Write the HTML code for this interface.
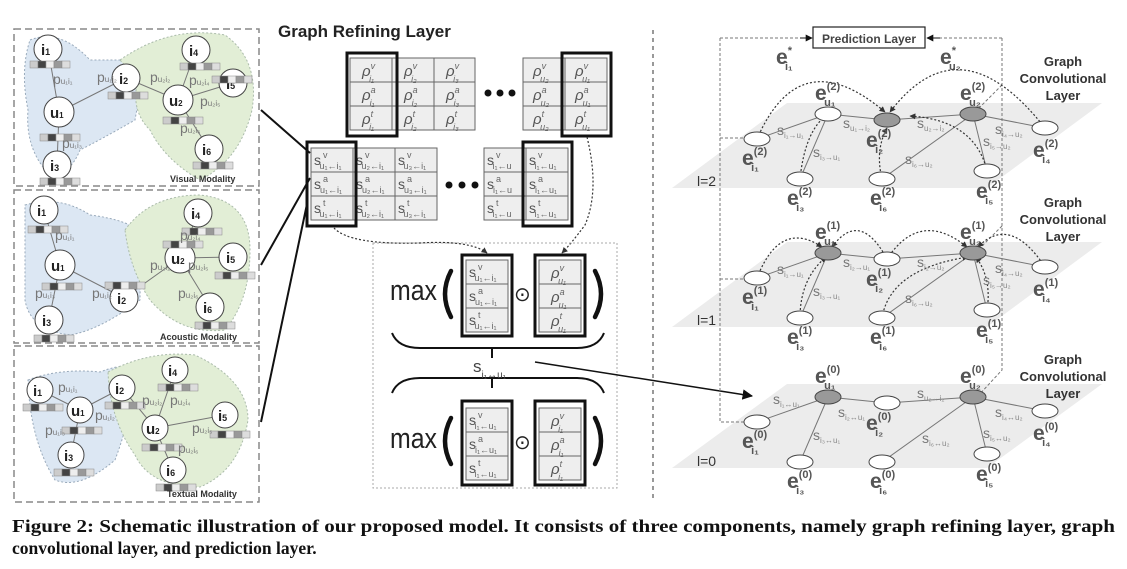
<!DOCTYPE html>
<html><head><meta charset="utf-8"><style>
html,body{margin:0;padding:0;background:#fff;width:1127px;height:569px;overflow:hidden}
svg{display:block;font-family:"Liberation Sans",sans-serif}
.g{fill:#666}
.cell{fill:#eee;stroke:#666;stroke-width:1}
.ct{font-size:15px;fill:#555;font-style:italic}
.cs{font-size:9px;fill:#666}
.thick{fill:none;stroke:#111;stroke-width:3}
.nd{fill:#fff;stroke:#444;stroke-width:1}
.nl{font-size:15px;font-weight:bold;fill:#222}
.el{font-size:21px;font-weight:bold;fill:#555}
.es{font-size:11px;fill:#555}
.dash{fill:none;stroke:#777;stroke-width:1;stroke-dasharray:3,2}
.edge{stroke:#777;stroke-width:1}
.arc{fill:none;stroke:#333;stroke-width:1.2;stroke-dasharray:2,2}
.sl{font-size:14px;fill:#777}
.ss{font-size:8px;fill:#888}
.gc{font-size:13px;font-weight:bold;fill:#333;text-anchor:middle}
.par{fill:none;stroke:#111;stroke-width:4.5;stroke-linecap:round}
</style></head><body>
<svg width="1127" height="569" viewBox="0 0 1127 569">
<defs>
<marker id="ah" viewBox="0 0 10 10" refX="9" refY="5" markerWidth="7" markerHeight="7" orient="auto"><path d="M0,0L10,5L0,10z" fill="#111"/></marker>
<marker id="ahs" viewBox="0 0 10 10" refX="9" refY="5" markerWidth="5" markerHeight="5" orient="auto"><path d="M0,0L10,5L0,10z" fill="#333"/></marker>
<g id="bar"><rect x="0" y="0" width="8" height="7" fill="#ccc" stroke="#888" stroke-width=".5"/><rect x="8" y="0" width="8" height="7" fill="#444" stroke="#888" stroke-width=".5"/><rect x="16" y="0" width="8" height="7" fill="#eee" stroke="#888" stroke-width=".5"/><rect x="24" y="0" width="8" height="7" fill="#999" stroke="#888" stroke-width=".5"/><rect x="32" y="0" width="8" height="7" fill="#ddd" stroke="#888" stroke-width=".5"/></g>
</defs>

<!-- ================= LEFT PANELS ================= -->
<g stroke="#888" stroke-width="1.5" stroke-dasharray="7,4" fill="none">
<rect x="14" y="29" width="245" height="157"/>
<rect x="14" y="190" width="245" height="153"/>
<rect x="14" y="346" width="245" height="156"/>
</g>
<!-- panel 1 -->
<path d="M30,40 Q60,28 90,60 Q130,60 150,60 Q140,90 135,120 Q100,140 80,150 Q70,175 50,175 Q25,150 28,110 Q20,70 30,40z" fill="#dce7f3" stroke="#9ab" stroke-dasharray="2,2"/>
<path d="M120,60 Q170,25 225,35 Q260,60 252,110 Q240,160 200,180 Q165,160 150,130 Q130,110 138,80z" fill="#e2eed6" stroke="#aba" stroke-dasharray="2,2"/>
<g class="edge"><line x1="48" y1="49" x2="59" y2="112"/><line x1="59" y1="112" x2="126" y2="78"/><line x1="59" y1="112" x2="57" y2="165"/><line x1="126" y1="78" x2="178" y2="100"/><line x1="178" y1="100" x2="196" y2="50"/><line x1="178" y1="100" x2="233" y2="83"/><line x1="178" y1="100" x2="209" y2="149"/></g>
<g class="nd"><circle cx="48" cy="49" r="14"/><circle cx="126" cy="78" r="14"/><circle cx="59" cy="112" r="15"/><circle cx="57" cy="165" r="14"/><circle cx="196" cy="50" r="14"/><circle cx="233" cy="83" r="14"/><circle cx="178" cy="100" r="15"/><circle cx="209" cy="149" r="14"/></g>
<g class="nl"><text x="41" y="55">i<tspan font-size="9">1</tspan></text><text x="119" y="84">i<tspan font-size="9">2</tspan></text><text x="50" y="118">u<tspan font-size="8">1</tspan></text><text x="50" y="171">i<tspan font-size="9">3</tspan></text><text x="189" y="56">i<tspan font-size="9">4</tspan></text><text x="226" y="89">i<tspan font-size="9">5</tspan></text><text x="169" y="106">u<tspan font-size="8">2</tspan></text><text x="202" y="155">i<tspan font-size="9">6</tspan></text></g>
<use href="#bar" x="30" y="61"/><use href="#bar" x="108" y="92"/><use href="#bar" x="40" y="134"/><use href="#bar" x="40" y="178"/><use href="#bar" x="180" y="63"/><use href="#bar" x="212" y="76"/><use href="#bar" x="163" y="117"/><use href="#bar" x="193" y="162"/>
<g class="sl" font-size="13"><text x="53" y="84">p<tspan font-size="8">u₁i₁</tspan></text><text x="97" y="82">p<tspan font-size="8">u₁i₂</tspan></text><text x="150" y="82">p<tspan font-size="8">u₂i₂</tspan></text><text x="189" y="85">p<tspan font-size="8">u₂i₄</tspan></text><text x="200" y="106">p<tspan font-size="8">u₂i₅</tspan></text><text x="180" y="133">p<tspan font-size="8">u₂i₆</tspan></text><text x="62" y="148">p<tspan font-size="8">u₁i₃</tspan></text></g>
<text x="170" y="182" font-size="9" font-weight="bold" fill="#333">Visual Modality</text>
<!-- panel 2 -->
<path d="M25,205 Q60,195 90,215 Q130,220 145,235 Q140,270 140,300 Q100,330 70,335 Q30,330 25,300z" fill="#dce7f3" stroke="#9ab" stroke-dasharray="2,2"/>
<path d="M125,230 Q150,195 200,195 Q250,200 250,250 Q250,300 225,330 Q180,335 150,300 Q130,270 125,230z" fill="#e2eed6" stroke="#aba" stroke-dasharray="2,2"/>
<g class="edge"><line x1="44" y1="210" x2="60" y2="265"/><line x1="60" y1="265" x2="124" y2="298"/><line x1="60" y1="265" x2="49" y2="320"/><line x1="124" y1="298" x2="180" y2="258"/><line x1="180" y1="258" x2="198" y2="213"/><line x1="180" y1="258" x2="233" y2="257"/><line x1="180" y1="258" x2="210" y2="307"/></g>
<g class="nd"><circle cx="44" cy="210" r="14"/><circle cx="124" cy="298" r="14"/><circle cx="60" cy="265" r="15"/><circle cx="49" cy="320" r="14"/><circle cx="198" cy="213" r="14"/><circle cx="233" cy="257" r="14"/><circle cx="180" cy="258" r="15"/><circle cx="210" cy="307" r="14"/></g>
<g class="nl"><text x="37" y="216">i<tspan font-size="9">1</tspan></text><text x="117" y="304">i<tspan font-size="9">2</tspan></text><text x="51" y="271">u<tspan font-size="8">1</tspan></text><text x="42" y="326">i<tspan font-size="9">3</tspan></text><text x="191" y="219">i<tspan font-size="9">4</tspan></text><text x="226" y="263">i<tspan font-size="9">5</tspan></text><text x="171" y="264">u<tspan font-size="8">2</tspan></text><text x="203" y="313">i<tspan font-size="9">6</tspan></text></g>
<use href="#bar" x="28" y="226"/><use href="#bar" x="105" y="282"/><use href="#bar" x="42" y="283"/><use href="#bar" x="34" y="335"/><use href="#bar" x="182" y="228"/><use href="#bar" x="215" y="272"/><use href="#bar" x="163" y="241"/><use href="#bar" x="195" y="322"/>
<g class="sl" font-size="13"><text x="55" y="240">p<tspan font-size="8">u₁i₁</tspan></text><text x="35" y="298">p<tspan font-size="8">u₁i₃</tspan></text><text x="92" y="298">p<tspan font-size="8">u₁i₂</tspan></text><text x="150" y="270">p<tspan font-size="8">u₂i₂</tspan></text><text x="180" y="240">p<tspan font-size="8">u₂i₄</tspan></text><text x="188" y="270">p<tspan font-size="8">u₂i₅</tspan></text><text x="178" y="298">p<tspan font-size="8">u₂i₆</tspan></text></g>
<text x="160" y="340" font-size="9" font-weight="bold" fill="#333">Acoustic Modality</text>
<!-- panel 3 -->
<path d="M28,380 Q60,368 100,372 Q130,360 137,375 Q130,420 115,460 Q80,490 55,480 Q30,440 28,380z" fill="#dce7f3" stroke="#9ab" stroke-dasharray="2,2"/>
<path d="M108,372 Q150,350 195,355 Q248,380 248,420 Q240,470 200,487 Q150,487 135,455 Q110,420 108,372z" fill="#e2eed6" stroke="#aba" stroke-dasharray="2,2"/>
<g class="edge"><line x1="40" y1="390" x2="80" y2="410"/><line x1="80" y1="410" x2="122" y2="388"/><line x1="80" y1="410" x2="71" y2="455"/><line x1="122" y1="388" x2="155" y2="428"/><line x1="155" y1="428" x2="175" y2="370"/><line x1="155" y1="428" x2="225" y2="415"/><line x1="155" y1="428" x2="173" y2="470"/></g>
<g class="nd"><circle cx="40" cy="390" r="13"/><circle cx="122" cy="388" r="13"/><circle cx="80" cy="410" r="13"/><circle cx="71" cy="455" r="13"/><circle cx="175" cy="370" r="13"/><circle cx="225" cy="415" r="13"/><circle cx="155" cy="428" r="13"/><circle cx="173" cy="470" r="13"/></g>
<g class="nl"><text x="33" y="396">i<tspan font-size="9">1</tspan></text><text x="115" y="394">i<tspan font-size="9">2</tspan></text><text x="71" y="416">u<tspan font-size="8">1</tspan></text><text x="64" y="461">i<tspan font-size="9">3</tspan></text><text x="168" y="376">i<tspan font-size="9">4</tspan></text><text x="218" y="421">i<tspan font-size="9">5</tspan></text><text x="146" y="434">u<tspan font-size="8">2</tspan></text><text x="166" y="476">i<tspan font-size="9">6</tspan></text></g>
<use href="#bar" x="23" y="404"/><use href="#bar" x="105" y="402"/><use href="#bar" x="62" y="427"/><use href="#bar" x="54" y="469"/><use href="#bar" x="158" y="384"/><use href="#bar" x="210" y="431"/><use href="#bar" x="142" y="444"/><use href="#bar" x="156" y="484"/>
<g class="sl" font-size="13"><text x="58" y="392">p<tspan font-size="8">u₁i₁</tspan></text><text x="95" y="420">p<tspan font-size="8">u₁i₂</tspan></text><text x="45" y="435">p<tspan font-size="8">u₁i₃</tspan></text><text x="142" y="405">p<tspan font-size="8">u₂i₂</tspan></text><text x="170" y="405">p<tspan font-size="8">u₂i₄</tspan></text><text x="192" y="433">p<tspan font-size="8">u₂i₅</tspan></text><text x="178" y="453">p<tspan font-size="8">u₂i₆</tspan></text></g>
<text x="167" y="497" font-size="9" font-weight="bold" fill="#333">Textual Modality</text>

<!-- connectors from panels -->
<g stroke="#111" stroke-width="2"><line x1="261" y1="110" x2="310" y2="153"/><line x1="261" y1="265" x2="310" y2="178"/><line x1="261" y1="422" x2="307" y2="204"/></g>

<!-- ================= MIDDLE ================= -->
<text x="278" y="37" font-size="17" font-weight="bold" fill="#222">Graph Refining Layer</text>
<g class="cell">
<rect x="350" y="58" width="42" height="24"/><rect x="392" y="58" width="42" height="24"/><rect x="434" y="58" width="41" height="24"/>
<rect x="350" y="82" width="42" height="24"/><rect x="392" y="82" width="42" height="24"/><rect x="434" y="82" width="41" height="24"/>
<rect x="350" y="106" width="42" height="24"/><rect x="392" y="106" width="42" height="24"/><rect x="434" y="106" width="41" height="24"/>
<rect x="523" y="58" width="42" height="24"/><rect x="565" y="58" width="42" height="24"/>
<rect x="523" y="82" width="42" height="24"/><rect x="565" y="82" width="42" height="24"/>
<rect x="523" y="106" width="42" height="24"/><rect x="565" y="106" width="42" height="24"/>
</g>
<g class="ct">
<text x="362" y="76">ρ<tspan class="cs" dy="-7">v</tspan><tspan class="cs" dx="-6" dy="13">i₁</tspan></text>
<text x="404" y="76">ρ<tspan class="cs" dy="-7">v</tspan><tspan class="cs" dx="-6" dy="13">i₂</tspan></text>
<text x="446" y="76">ρ<tspan class="cs" dy="-7">v</tspan><tspan class="cs" dx="-6" dy="13">i₃</tspan></text>
<text x="362" y="100">ρ<tspan class="cs" dy="-7">a</tspan><tspan class="cs" dx="-6" dy="13">i₁</tspan></text>
<text x="404" y="100">ρ<tspan class="cs" dy="-7">a</tspan><tspan class="cs" dx="-6" dy="13">i₂</tspan></text>
<text x="446" y="100">ρ<tspan class="cs" dy="-7">a</tspan><tspan class="cs" dx="-6" dy="13">i₃</tspan></text>
<text x="362" y="124">ρ<tspan class="cs" dy="-7">t</tspan><tspan class="cs" dx="-4" dy="13">i₁</tspan></text>
<text x="404" y="124">ρ<tspan class="cs" dy="-7">t</tspan><tspan class="cs" dx="-4" dy="13">i₂</tspan></text>
<text x="446" y="124">ρ<tspan class="cs" dy="-7">t</tspan><tspan class="cs" dx="-4" dy="13">i₃</tspan></text>
<text x="533" y="76">ρ<tspan class="cs" dy="-7">v</tspan><tspan class="cs" dx="-6" dy="13">u₂</tspan></text>
<text x="575" y="76">ρ<tspan class="cs" dy="-7">v</tspan><tspan class="cs" dx="-6" dy="13">u₁</tspan></text>
<text x="533" y="100">ρ<tspan class="cs" dy="-7">a</tspan><tspan class="cs" dx="-6" dy="13">u₂</tspan></text>
<text x="575" y="100">ρ<tspan class="cs" dy="-7">a</tspan><tspan class="cs" dx="-6" dy="13">u₁</tspan></text>
<text x="533" y="124">ρ<tspan class="cs" dy="-7">t</tspan><tspan class="cs" dx="-4" dy="13">u₂</tspan></text>
<text x="575" y="124">ρ<tspan class="cs" dy="-7">t</tspan><tspan class="cs" dx="-4" dy="13">u₁</tspan></text>
</g>
<rect class="thick" x="347" y="53" width="50" height="83"/>
<rect class="thick" x="562" y="53" width="49" height="83"/>
<g fill="#111"><circle cx="488" cy="93" r="3.5"/><circle cx="500" cy="93" r="3.5"/><circle cx="512" cy="93" r="3.5"/></g>
<g class="cell">
<rect x="311" y="148" width="42" height="24"/><rect x="353" y="148" width="42" height="24"/><rect x="395" y="148" width="42" height="24"/>
<rect x="311" y="172" width="42" height="24"/><rect x="353" y="172" width="42" height="24"/><rect x="395" y="172" width="42" height="24"/>
<rect x="311" y="196" width="42" height="24"/><rect x="353" y="196" width="42" height="24"/><rect x="395" y="196" width="42" height="24"/>
<rect x="484" y="148" width="42" height="24"/><rect x="526" y="148" width="42" height="24"/>
<rect x="484" y="172" width="42" height="24"/><rect x="526" y="172" width="42" height="24"/>
<rect x="484" y="196" width="42" height="24"/><rect x="526" y="196" width="42" height="24"/>
</g>
<g font-size="14" fill="#555">
<text x="314" y="165">s<tspan class="cs" dx="2" dy="-7">v</tspan><tspan class="cs" dx="-8" dy="11">u₁←i₁</tspan></text>
<text x="356" y="165">s<tspan class="cs" dx="2" dy="-7">v</tspan><tspan class="cs" dx="-8" dy="11">u₂←i₁</tspan></text>
<text x="398" y="165">s<tspan class="cs" dx="2" dy="-7">v</tspan><tspan class="cs" dx="-8" dy="11">u₃←i₁</tspan></text>
<text x="314" y="189">s<tspan class="cs" dx="2" dy="-7">a</tspan><tspan class="cs" dx="-8" dy="11">u₁←i₁</tspan></text>
<text x="356" y="189">s<tspan class="cs" dx="2" dy="-7">a</tspan><tspan class="cs" dx="-8" dy="11">u₂←i₁</tspan></text>
<text x="398" y="189">s<tspan class="cs" dx="2" dy="-7">a</tspan><tspan class="cs" dx="-8" dy="11">u₃←i₁</tspan></text>
<text x="314" y="213">s<tspan class="cs" dx="2" dy="-7">t</tspan><tspan class="cs" dx="-6" dy="11">u₁←i₁</tspan></text>
<text x="356" y="213">s<tspan class="cs" dx="2" dy="-7">t</tspan><tspan class="cs" dx="-6" dy="11">u₂←i₁</tspan></text>
<text x="398" y="213">s<tspan class="cs" dx="2" dy="-7">t</tspan><tspan class="cs" dx="-6" dy="11">u₃←i₁</tspan></text>
<text x="487" y="165">s<tspan class="cs" dx="2" dy="-7">v</tspan><tspan class="cs" dx="-8" dy="11">i₁←u</tspan></text>
<text x="529" y="165">s<tspan class="cs" dx="2" dy="-7">v</tspan><tspan class="cs" dx="-8" dy="11">i₁←u₁</tspan></text>
<text x="487" y="189">s<tspan class="cs" dx="2" dy="-7">a</tspan><tspan class="cs" dx="-8" dy="11">i₁←u</tspan></text>
<text x="529" y="189">s<tspan class="cs" dx="2" dy="-7">a</tspan><tspan class="cs" dx="-8" dy="11">i₁←u₁</tspan></text>
<text x="487" y="213">s<tspan class="cs" dx="2" dy="-7">t</tspan><tspan class="cs" dx="-6" dy="11">i₁←u</tspan></text>
<text x="529" y="213">s<tspan class="cs" dx="2" dy="-7">t</tspan><tspan class="cs" dx="-6" dy="11">i₁←u₁</tspan></text>
</g>
<rect class="thick" x="307" y="142" width="49" height="84"/>
<rect class="thick" x="523" y="142" width="49" height="84"/>
<g fill="#111"><circle cx="449" cy="185" r="3.5"/><circle cx="462" cy="185" r="3.5"/><circle cx="475" cy="185" r="3.5"/></g>
<path class="arc" d="M334,228 Q350,245 420,243 Q470,240 487,253" marker-end="url(#ahs)"/>
<path class="arc" d="M587,137 Q600,190 585,225 Q570,245 562,253" marker-end="url(#ahs)"/>
<rect x="373" y="243" width="244" height="245" fill="none" stroke="#aaa" stroke-dasharray="2,2"/>
<text x="390" y="300" font-size="29" fill="#222" textLength="47" lengthAdjust="spacingAndGlyphs">max</text>
<path class="par" d="M451,271 Q439,294 451,317"/>
<path class="par" d="M595,271 Q607,294 595,317"/>
<text x="514" y="301" font-size="20" fill="#222">⊙</text>
<text x="390" y="448" font-size="29" fill="#222" textLength="47" lengthAdjust="spacingAndGlyphs">max</text>
<path class="par" d="M451,418 Q439,441 451,464"/>
<path class="par" d="M595,418 Q607,441 595,464"/>
<text x="514" y="449" font-size="20" fill="#222">⊙</text>
<g class="cell">
<rect x="466" y="260" width="42" height="24"/><rect x="466" y="284" width="42" height="24"/><rect x="466" y="308" width="42" height="24"/>
<rect x="539" y="260" width="42" height="24"/><rect x="539" y="284" width="42" height="24"/><rect x="539" y="308" width="42" height="24"/>
<rect x="466" y="408" width="42" height="24"/><rect x="466" y="432" width="42" height="24"/><rect x="466" y="456" width="42" height="24"/>
<rect x="539" y="408" width="42" height="24"/><rect x="539" y="432" width="42" height="24"/><rect x="539" y="456" width="42" height="24"/>
</g>
<rect class="thick" x="462" y="255" width="50" height="81"/><rect class="thick" x="535" y="255" width="50" height="81"/>
<rect class="thick" x="462" y="401" width="50" height="84"/><rect class="thick" x="535" y="401" width="50" height="84"/>
<g font-size="14" fill="#555">
<text x="469" y="277">s<tspan class="cs" dx="2" dy="-7">v</tspan><tspan class="cs" dx="-8" dy="11">u₁←i₁</tspan></text>
<text x="469" y="301">s<tspan class="cs" dx="2" dy="-7">a</tspan><tspan class="cs" dx="-8" dy="11">u₁←i₁</tspan></text>
<text x="469" y="325">s<tspan class="cs" dx="2" dy="-7">t</tspan><tspan class="cs" dx="-6" dy="11">u₁←i₁</tspan></text>
<text x="469" y="425">s<tspan class="cs" dx="2" dy="-7">v</tspan><tspan class="cs" dx="-8" dy="11">i₁←u₁</tspan></text>
<text x="469" y="449">s<tspan class="cs" dx="2" dy="-7">a</tspan><tspan class="cs" dx="-8" dy="11">i₁←u₁</tspan></text>
<text x="469" y="473">s<tspan class="cs" dx="2" dy="-7">t</tspan><tspan class="cs" dx="-6" dy="11">i₁←u₁</tspan></text>
</g>
<g class="ct">
<text x="551" y="278">ρ<tspan class="cs" dy="-7">v</tspan><tspan class="cs" dx="-6" dy="13">u₁</tspan></text>
<text x="551" y="302">ρ<tspan class="cs" dy="-7">a</tspan><tspan class="cs" dx="-6" dy="13">u₁</tspan></text>
<text x="551" y="326">ρ<tspan class="cs" dy="-7">t</tspan><tspan class="cs" dx="-4" dy="13">u₁</tspan></text>
<text x="551" y="426">ρ<tspan class="cs" dy="-7">v</tspan><tspan class="cs" dx="-6" dy="13">i₁</tspan></text>
<text x="551" y="450">ρ<tspan class="cs" dy="-7">a</tspan><tspan class="cs" dx="-6" dy="13">i₁</tspan></text>
<text x="551" y="474">ρ<tspan class="cs" dy="-7">t</tspan><tspan class="cs" dx="-4" dy="13">i₁</tspan></text>
</g>
<g fill="none" stroke="#111" stroke-width="2">
<path d="M392,333 Q398,348 420,348 L577,348 Q598,348 604,333"/>
<line x1="492" y1="348" x2="492" y2="358"/>
<path d="M392,393 Q398,378 420,378 L577,378 Q598,378 604,393"/>
<line x1="492" y1="378" x2="492" y2="388"/>
</g>
<text x="473" y="372" font-size="17" fill="#444">s<tspan font-size="10" dy="6">i₁↔u₁</tspan></text>
<line x1="535" y1="362" x2="752" y2="396" stroke="#111" stroke-width="1.5" marker-end="url(#ah)"/>

<line x1="653" y1="30" x2="653" y2="500" stroke="#999" stroke-width="2" stroke-dasharray="4,4"/>

<!-- ================= RIGHT ================= -->
<polygon points="672,188 987,188 1102,103 787,103" fill="#ececec"/>
<polygon points="672,327 987,327 1102,242 787,242" fill="#ececec"/>
<polygon points="672,468 987,468 1102,384 787,384" fill="#ececec"/>
<g class="dash" stroke="#999">
<path d="M720,38 L720,422 L760,422"/>
<path d="M1002,38 L1002,370 L978,396"/>
<line x1="720" y1="38" x2="808" y2="38"/>
<line x1="1002" y1="38" x2="932" y2="38"/>
<line x1="720" y1="138" x2="750" y2="138"/>
<line x1="720" y1="279" x2="750" y2="279"/>
<line x1="1002" y1="85" x2="975" y2="112"/>
<line x1="1002" y1="226" x2="975" y2="253"/>
</g>
<path d="M800,38 L812,38" stroke="#111" marker-end="url(#ah)"/>
<path d="M940,38 L927,38" stroke="#111" marker-end="url(#ah)"/>
<rect x="813" y="27" width="112" height="21" fill="#fff" stroke="#222" stroke-width="1.2"/>
<text x="869" y="43" font-size="12" font-weight="bold" fill="#444" text-anchor="middle">Prediction Layer</text>
<text x="776" y="64" class="el">e<tspan class="es" dy="-10">*</tspan><tspan class="es" dx="-7" dy="16">i₁</tspan></text>
<text x="940" y="64" class="el">e<tspan class="es" dy="-10">*</tspan><tspan class="es" dx="-7" dy="16">u₂</tspan></text>

<text class="gc" x="1063" y="66">Graph</text><text class="gc" x="1063" y="83">Convolutional</text><text class="gc" x="1063" y="100">Layer</text>
<text class="gc" x="1063" y="207">Graph</text><text class="gc" x="1063" y="224">Convolutional</text><text class="gc" x="1063" y="241">Layer</text>
<text class="gc" x="1063" y="364">Graph</text><text class="gc" x="1063" y="381">Convolutional</text><text class="gc" x="1063" y="398">Layer</text>
<text x="697" y="186" font-size="14" fill="#333">l=2</text>
<text x="697" y="325" font-size="14" fill="#333">l=1</text>
<text x="697" y="466" font-size="14" fill="#333">l=0</text>

<g>
<g class="edge"><line x1="757" y1="139" x2="828" y2="114"/><line x1="828" y1="114" x2="800" y2="179"/><line x1="828" y1="114" x2="887" y2="120"/><line x1="887" y1="120" x2="973" y2="114"/><line x1="973" y1="114" x2="1045" y2="128"/><line x1="973" y1="114" x2="987" y2="171"/><line x1="973" y1="114" x2="882" y2="179"/></g>
<path class="arc" d="M757,139 Q800,40 885,112" marker-end="url(#ahs)"/>
<path class="arc" d="M1045,128 Q960,20 890,112" marker-end="url(#ahs)"/>
<path class="arc" d="M800,179 Q805,130 828,114"/>
<path class="arc" d="M882,179 Q875,150 887,128" marker-end="url(#ahs)"/>
<path class="arc" d="M987,171 Q975,120 910,116" marker-end="url(#ahs)"/>
<g class="nd"><ellipse cx="828" cy="114" rx="13" ry="7"/><ellipse cx="757" cy="139" rx="13" ry="7"/><ellipse cx="800" cy="179" rx="13" ry="7"/><ellipse cx="882" cy="179" rx="13" ry="7"/><ellipse cx="987" cy="171" rx="13" ry="7"/><ellipse cx="1045" cy="128" rx="13" ry="7"/></g>
<g fill="#999" stroke="#444"><ellipse cx="887" cy="120" rx="13" ry="7"/><ellipse cx="973" cy="114" rx="13" ry="7"/></g>
<text class="el" x="815" y="100">e<tspan class="es" dy="-10">(2)</tspan><tspan class="es" dx="-16" dy="16">u₁</tspan></text>
<text class="el" x="960" y="100">e<tspan class="es" dy="-10">(2)</tspan><tspan class="es" dx="-16" dy="16">u₂</tspan></text>
<text class="el" x="866" y="147">e<tspan class="es" dy="-10">(2)</tspan><tspan class="es" dx="-16" dy="16">i₂</tspan></text>
<text class="el" x="742" y="165">e<tspan class="es" dy="-10">(2)</tspan><tspan class="es" dx="-16" dy="16">i₁</tspan></text>
<text class="el" x="787" y="205">e<tspan class="es" dy="-10">(2)</tspan><tspan class="es" dx="-16" dy="16">i₃</tspan></text>
<text class="el" x="870" y="205">e<tspan class="es" dy="-10">(2)</tspan><tspan class="es" dx="-16" dy="16">i₆</tspan></text>
<text class="el" x="976" y="198">e<tspan class="es" dy="-10">(2)</tspan><tspan class="es" dx="-16" dy="16">i₅</tspan></text>
<text class="el" x="1033" y="157">e<tspan class="es" dy="-10">(2)</tspan><tspan class="es" dx="-16" dy="16">i₄</tspan></text>
<g class="sl"><text x="777" y="135">s<tspan class="ss" dy="3">i₁→u₁</tspan></text><text x="843" y="128">s<tspan class="ss" dy="3">u₁→i₂</tspan></text><text x="917" y="128">s<tspan class="ss" dy="3">u₂→i₂</tspan></text><text x="995" y="134">s<tspan class="ss" dy="3">i₄→u₂</tspan></text><text x="983" y="146">s<tspan class="ss" dy="3">i₅→u₂</tspan></text><text x="813" y="157">s<tspan class="ss" dy="3">i₃→u₁</tspan></text><text x="905" y="164">s<tspan class="ss" dy="3">i₆→u₂</tspan></text></g>
</g>
<g transform="translate(0,139)">
<g class="edge"><line x1="757" y1="139" x2="828" y2="114"/><line x1="828" y1="114" x2="800" y2="179"/><line x1="828" y1="114" x2="887" y2="120"/><line x1="887" y1="120" x2="973" y2="114"/><line x1="973" y1="114" x2="1045" y2="128"/><line x1="973" y1="114" x2="987" y2="171"/><line x1="973" y1="114" x2="882" y2="179"/></g>
<path class="arc" d="M757,139 Q780,80 822,108" marker-end="url(#ahs)"/>
<path class="arc" d="M887,120 Q860,70 832,108" marker-end="url(#ahs)"/>
<path class="arc" d="M887,120 Q920,70 967,108" marker-end="url(#ahs)"/>
<path class="arc" d="M1045,128 Q1010,75 978,108" marker-end="url(#ahs)"/>
<path class="arc" d="M800,179 Q800,140 826,118" marker-end="url(#ahs)"/>
<path class="arc" d="M882,179 Q890,130 968,118" marker-end="url(#ahs)"/>
<path class="arc" d="M987,171 Q992,140 976,118" marker-end="url(#ahs)"/>
<g class="nd"><ellipse cx="887" cy="120" rx="13" ry="7"/><ellipse cx="757" cy="139" rx="13" ry="7"/><ellipse cx="800" cy="179" rx="13" ry="7"/><ellipse cx="882" cy="179" rx="13" ry="7"/><ellipse cx="987" cy="171" rx="13" ry="7"/><ellipse cx="1045" cy="128" rx="13" ry="7"/></g>
<g fill="#999" stroke="#444"><ellipse cx="828" cy="114" rx="13" ry="7"/><ellipse cx="973" cy="114" rx="13" ry="7"/></g>
<text class="el" x="815" y="100">e<tspan class="es" dy="-10">(1)</tspan><tspan class="es" dx="-16" dy="16">u₁</tspan></text>
<text class="el" x="960" y="100">e<tspan class="es" dy="-10">(1)</tspan><tspan class="es" dx="-16" dy="16">u₂</tspan></text>
<text class="el" x="866" y="147">e<tspan class="es" dy="-10">(1)</tspan><tspan class="es" dx="-16" dy="16">i₂</tspan></text>
<text class="el" x="742" y="165">e<tspan class="es" dy="-10">(1)</tspan><tspan class="es" dx="-16" dy="16">i₁</tspan></text>
<text class="el" x="787" y="205">e<tspan class="es" dy="-10">(1)</tspan><tspan class="es" dx="-16" dy="16">i₃</tspan></text>
<text class="el" x="870" y="205">e<tspan class="es" dy="-10">(1)</tspan><tspan class="es" dx="-16" dy="16">i₆</tspan></text>
<text class="el" x="976" y="198">e<tspan class="es" dy="-10">(1)</tspan><tspan class="es" dx="-16" dy="16">i₅</tspan></text>
<text class="el" x="1033" y="157">e<tspan class="es" dy="-10">(1)</tspan><tspan class="es" dx="-16" dy="16">i₄</tspan></text>
<g class="sl"><text x="777" y="135">s<tspan class="ss" dy="3">i₁→u₁</tspan></text><text x="843" y="128">s<tspan class="ss" dy="3">i₂→u₁</tspan></text><text x="917" y="128">s<tspan class="ss" dy="3">i₂→u₂</tspan></text><text x="995" y="134">s<tspan class="ss" dy="3">i₄→u₂</tspan></text><text x="983" y="146">s<tspan class="ss" dy="3">i₅→u₂</tspan></text><text x="813" y="157">s<tspan class="ss" dy="3">i₃→u₁</tspan></text><text x="905" y="164">s<tspan class="ss" dy="3">i₆→u₂</tspan></text></g>
</g>
<g transform="translate(0,283)">
<g class="edge"><line x1="757" y1="139" x2="828" y2="114"/><line x1="828" y1="114" x2="800" y2="179"/><line x1="828" y1="114" x2="887" y2="120"/><line x1="887" y1="120" x2="973" y2="114"/><line x1="973" y1="114" x2="1045" y2="128"/><line x1="973" y1="114" x2="987" y2="171"/><line x1="973" y1="114" x2="882" y2="179"/></g>
<g class="nd"><ellipse cx="887" cy="120" rx="13" ry="7"/><ellipse cx="757" cy="139" rx="13" ry="7"/><ellipse cx="800" cy="179" rx="13" ry="7"/><ellipse cx="882" cy="179" rx="13" ry="7"/><ellipse cx="987" cy="171" rx="13" ry="7"/><ellipse cx="1045" cy="128" rx="13" ry="7"/></g>
<g fill="#999" stroke="#444"><ellipse cx="828" cy="114" rx="13" ry="7"/><ellipse cx="973" cy="114" rx="13" ry="7"/></g>
<text class="el" x="815" y="100">e<tspan class="es" dy="-10">(0)</tspan><tspan class="es" dx="-16" dy="16">u₁</tspan></text>
<text class="el" x="960" y="100">e<tspan class="es" dy="-10">(0)</tspan><tspan class="es" dx="-16" dy="16">u₂</tspan></text>
<text class="el" x="866" y="147">e<tspan class="es" dy="-10">(0)</tspan><tspan class="es" dx="-16" dy="16">i₂</tspan></text>
<text class="el" x="742" y="165">e<tspan class="es" dy="-10">(0)</tspan><tspan class="es" dx="-16" dy="16">i₁</tspan></text>
<text class="el" x="787" y="205">e<tspan class="es" dy="-10">(0)</tspan><tspan class="es" dx="-16" dy="16">i₃</tspan></text>
<text class="el" x="870" y="205">e<tspan class="es" dy="-10">(0)</tspan><tspan class="es" dx="-16" dy="16">i₆</tspan></text>
<text class="el" x="976" y="198">e<tspan class="es" dy="-10">(0)</tspan><tspan class="es" dx="-16" dy="16">i₅</tspan></text>
<text class="el" x="1033" y="157">e<tspan class="es" dy="-10">(0)</tspan><tspan class="es" dx="-16" dy="16">i₄</tspan></text>
<g class="sl"><text x="773" y="121">s<tspan class="ss" dy="3">i₁↔u₁</tspan></text><text x="838" y="134">s<tspan class="ss" dy="3">i₂↔u₁</tspan></text><text x="917" y="115">s<tspan class="ss" dy="3">u₂↔i₂</tspan></text><text x="995" y="134">s<tspan class="ss" dy="3">i₄↔u₂</tspan></text><text x="983" y="155">s<tspan class="ss" dy="3">i₅↔u₂</tspan></text><text x="813" y="157">s<tspan class="ss" dy="3">i₃↔u₁</tspan></text><text x="922" y="160">s<tspan class="ss" dy="3">i₆↔u₂</tspan></text></g>
</g>

<text x="12" y="532" font-family="Liberation Serif, serif" font-size="17.5" font-weight="bold" fill="#111" textLength="1103" lengthAdjust="spacingAndGlyphs">Figure 2: Schematic illustration of our proposed model. It consists of three components, namely graph refining layer, graph</text>
<text x="12" y="554" font-family="Liberation Serif, serif" font-size="17.5" font-weight="bold" fill="#111">convolutional layer, and prediction layer.</text>
</svg>
</body></html>
